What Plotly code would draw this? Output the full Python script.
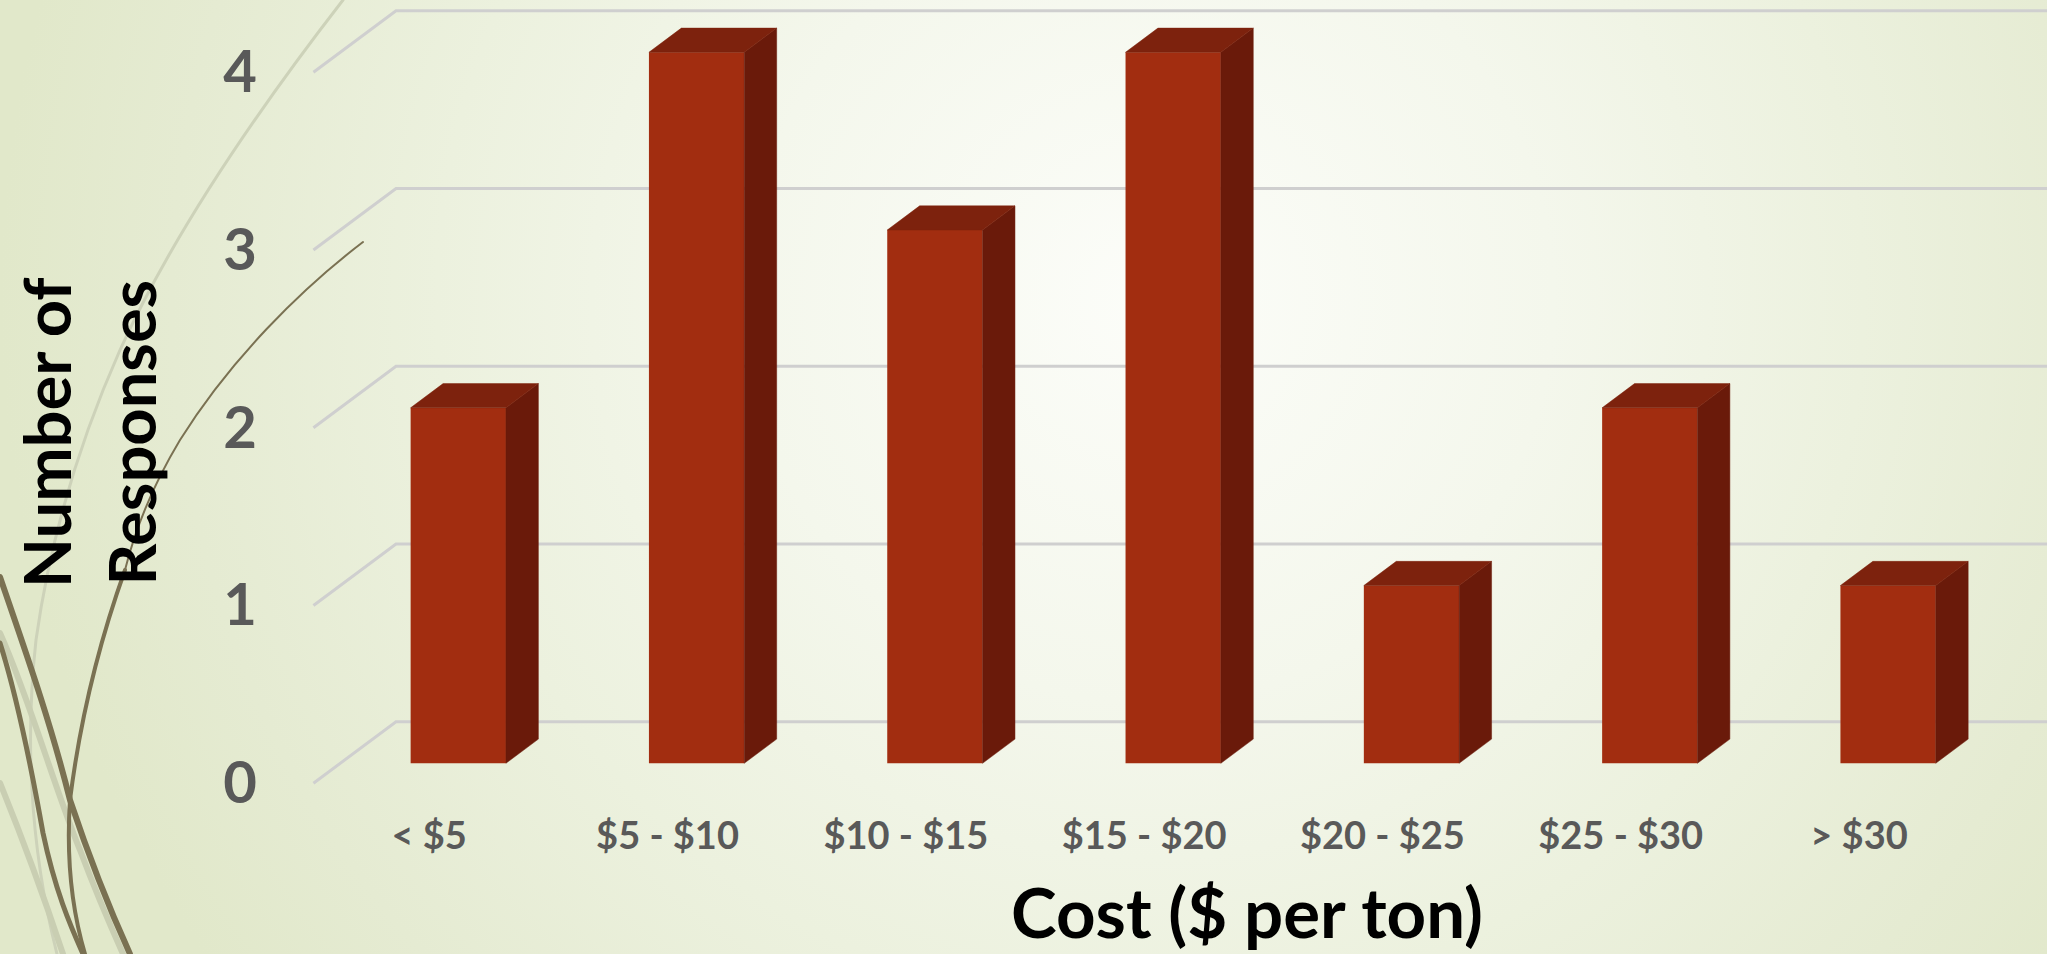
import base64
import plotly.graph_objects as go

# ---------------- data ----------------
categories = ["< $5", "$5 - $10", "$10 - $15", "$15 - $20", "$20 - $25", "$25 - $30", "> $30"]
responses = [2, 4, 3, 4, 1, 2, 1]
y_ticks = [0, 1, 2, 3, 4]
x_title = "Cost ($ per ton)"
y_title = "Number of<br>Responses"

# ---------------- styling / geometry ----------------
W, H = 2047, 954
BAR_W = 0.4          # bar width in category units
DEPTH = 0.136        # oblique depth of the bars (units)
WALL = 0.234         # depth offset of back wall
FLOOR_FRONT = -0.1125  # depth offset of floor front edge
WALL_LEFT = -0.2614  # x of back-wall left edge
X_RANGE = [-1.9232, 6.6668]
Y_RANGE = [-1.0729, 4.2942]
FRONT = "#a22d10"
SIDE = "#6a1a0a"
TOP = "#7d220d"
LABEL = "#595959"
GRID = "#cfcfcf"

# ---------------- background (gradient + decorative wisps) ----------------
svg = f'''<svg xmlns="http://www.w3.org/2000/svg" width="{W}" height="{H}" viewBox="0 0 {W} {H}" preserveAspectRatio="none">
<defs>
<radialGradient id="g" cx="1150" cy="300" r="1150" gradientUnits="userSpaceOnUse">
<stop offset="0" stop-color="#fcfdf9"/>
<stop offset="0.35" stop-color="#f4f7ec"/>
<stop offset="0.62" stop-color="#ecf1de"/>
<stop offset="0.85" stop-color="#e5ebd2"/>
<stop offset="1" stop-color="#e1e8ca"/>
</radialGradient>
</defs>
<rect x="0" y="0" width="{W}" height="{H}" fill="url(#g)"/>
<g fill="none" stroke-linecap="round">
<path d="M343,0 C250,120 170,240 120,350 C80,440 50,540 36,640 C26,730 28,840 57,954" stroke="#cdd2b9" stroke-width="3"/>
<path d="M0,633 C30,700 55,790 80,850 C95,890 110,925 123,954" stroke="#c9ceb2" stroke-width="6"/>
<path d="M0,783 C15,820 35,870 63,954" stroke="#c9ceb2" stroke-width="6"/>
<path d="M0,577 C25,650 50,720 70,800 C90,860 110,910 130,954" stroke="#7a7152" stroke-width="6"/>
<path d="M0,643 C15,690 30,760 43,833 C55,890 70,925 83,954" stroke="#7a7152" stroke-width="5"/>
<path d="M363,242 C300,290 230,360 180,440 C150,490 135,530 125,570" stroke="#7a7152" stroke-width="2"/>
<path d="M125,570 C100,640 80,720 70,800 C66,860 72,910 85,954" stroke="#7a7152" stroke-width="4"/>
</g>
</svg>'''
bg_src = "data:image/svg+xml;base64," + base64.b64encode(svg.encode()).decode()

fig = go.Figure()

# ---------------- back wall + floor gridlines ----------------
shapes = []
for v in y_ticks:
    x0 = WALL_LEFT - (WALL - FLOOR_FRONT)
    shapes.append(dict(type="path", xref="x", yref="y", layer="below",
                       path=f"M{x0},{v + FLOOR_FRONT} L{WALL_LEFT},{v + WALL} L{X_RANGE[1]},{v + WALL}",
                       line=dict(color=GRID, width=3)))

# ---------------- bars: front faces ----------------
xs = list(range(len(categories)))
fig.add_trace(go.Bar(x=xs, y=responses, width=BAR_W, marker=dict(color=FRONT, line=dict(width=0)),
                     hoverinfo="skip", showlegend=False))

# side and top faces (oblique 3-D look)
side_x, side_y, top_x, top_y = [], [], [], []
for i, v in zip(xs, responses):
    r = i + BAR_W / 2
    l = i - BAR_W / 2
    side_x += [r, r + DEPTH, r + DEPTH, r, r, None]
    side_y += [0, DEPTH, v + DEPTH, v, 0, None]
    top_x += [l, l + DEPTH, r + DEPTH, r, l, None]
    top_y += [v, v + DEPTH, v + DEPTH, v, v, None]
fig.add_trace(go.Scatter(x=side_x, y=side_y, mode="lines", fill="toself", fillcolor=SIDE,
                         line=dict(color=SIDE, width=0.5), hoverinfo="skip", showlegend=False))
fig.add_trace(go.Scatter(x=top_x, y=top_y, mode="lines", fill="toself", fillcolor=TOP,
                         line=dict(color=TOP, width=0.5), hoverinfo="skip", showlegend=False))

# ---------------- tick labels ----------------
fig.add_trace(go.Scatter(x=[-0.916] * len(y_ticks), y=[v + FLOOR_FRONT - 0.03 for v in y_ticks],
                         text=[str(v) for v in y_ticks], mode="text", textposition="middle center",
                         textfont=dict(family="Lato", size=58, color=LABEL, weight="bold"),
                         hoverinfo="skip", showlegend=False))
fig.add_trace(go.Scatter(x=[i - 0.122 for i in xs], y=[-0.43] * len(xs),
                         text=categories, mode="text", textposition="middle center",
                         textfont=dict(family="Lato", size=38, color=LABEL, weight="bold"),
                         hoverinfo="skip", showlegend=False))

fig.update_layout(
    width=W, height=H,
    margin=dict(l=0, r=0, t=0, b=0),
    paper_bgcolor="#e8eed8",
    plot_bgcolor="rgba(0,0,0,0)",
    images=[dict(source=bg_src, xref="paper", yref="paper", x=0, y=1, sizex=1, sizey=1,
                 xanchor="left", yanchor="top", sizing="stretch", layer="below")],
    shapes=shapes,
    xaxis=dict(range=X_RANGE, visible=False, fixedrange=True),
    yaxis=dict(range=Y_RANGE, visible=False, fixedrange=True),
    annotations=[
        dict(text=x_title, xref="paper", yref="paper", x=1246.5 / W, y=1 - 911 / H,
             xanchor="center", yanchor="middle", showarrow=False,
             font=dict(family="Lato", size=69, color="#000000", weight="bold")),
        dict(text=y_title, xref="paper", yref="paper", x=88 / W, y=1 - 433 / H,
             xanchor="center", yanchor="middle", showarrow=False, textangle=-90,
             font=dict(family="Lato", size=65, color="#000000", weight="bold")),
    ],
)

fig.write_html("out.html", config={"displayModeBar": False, "staticPlot": True},
               post_script="document.body.style.margin='0';document.body.style.overflow='hidden';")
